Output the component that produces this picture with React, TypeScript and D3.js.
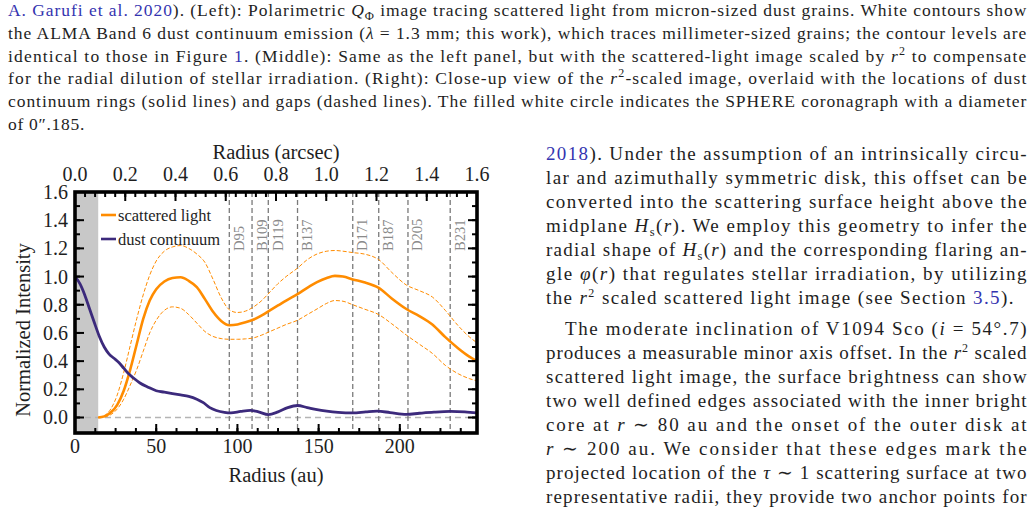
import React from "react";
import * as d3 from "d3";

// scattered light profile (r^2 scaled), sampled in au
const scatRadius = [14.3, 18, 22, 26, 30, 34, 38, 42, 46, 50, 55, 60, 65, 70, 75, 80, 85, 90, 95, 100, 105, 110, 115, 120, 125, 130, 137, 143, 149, 155, 160, 165, 171, 178, 187, 195, 204, 212, 220, 228, 236, 243, 247.5];
const scatMid = [0, 0.008, 0.035, 0.09, 0.19, 0.34, 0.52, 0.7, 0.83, 0.91, 0.965, 0.99, 0.995, 0.97, 0.925, 0.84, 0.75, 0.685, 0.655, 0.66, 0.675, 0.695, 0.725, 0.76, 0.795, 0.83, 0.875, 0.92, 0.96, 0.99, 1.005, 1.0, 0.98, 0.96, 0.92, 0.845, 0.77, 0.72, 0.66, 0.57, 0.49, 0.43, 0.4];
const scatUpper = [0, 0.012, 0.06, 0.16, 0.32, 0.51, 0.7, 0.87, 1.01, 1.11, 1.18, 1.21, 1.22, 1.2, 1.16, 1.1, 0.98, 0.85, 0.765, 0.745, 0.755, 0.785, 0.83, 0.89, 0.95, 1.0, 1.06, 1.12, 1.16, 1.18, 1.185, 1.18, 1.17, 1.16, 1.12, 1.03, 0.94, 0.9, 0.855, 0.76, 0.65, 0.57, 0.53];
const scatLower = [0, 0.004, 0.02, 0.06, 0.13, 0.23, 0.34, 0.47, 0.6, 0.69, 0.76, 0.785, 0.775, 0.73, 0.67, 0.61, 0.575, 0.56, 0.555, 0.555, 0.558, 0.565, 0.585, 0.61, 0.635, 0.66, 0.69, 0.73, 0.77, 0.81, 0.83, 0.825, 0.8, 0.77, 0.73, 0.665, 0.585, 0.52, 0.455, 0.37, 0.31, 0.275, 0.26];

// dust continuum profile
const dustRadius = [0, 3, 6, 9, 12, 15, 18, 21, 24, 27, 30, 33, 36, 40, 45, 50, 55, 60, 65, 70, 75, 79, 83, 87, 92, 96, 102, 108, 113, 119, 125, 131, 137, 143, 149, 155, 162, 171, 179, 186, 194, 204, 212, 221, 231, 240, 247.5];
const dustValue = [1.0, 0.95, 0.87, 0.77, 0.67, 0.575, 0.5, 0.45, 0.42, 0.39, 0.35, 0.31, 0.28, 0.245, 0.215, 0.19, 0.18, 0.17, 0.16, 0.15, 0.13, 0.105, 0.07, 0.05, 0.037, 0.033, 0.043, 0.05, 0.04, 0.021, 0.04, 0.07, 0.085, 0.07, 0.055, 0.045, 0.037, 0.033, 0.04, 0.045, 0.035, 0.022, 0.03, 0.038, 0.043, 0.04, 0.033];

// rings (B) and gaps (D) of the continuum
const ringNames = ["D95", "B109", "D119", "B137", "D171", "B187", "D205", "B231"];
const ringRadius = [95, 109, 119, 137, 171, 187, 205, 231];

const coronagraphAu = 14.3;
const auMax = 247.5;
const arcsecMax = 1.6;

const bottomTicks = [0, 50, 100, 150, 200];
const topTicks = [0, 0.2, 0.4, 0.6, 0.8, 1.0, 1.2, 1.4, 1.6];
const leftTicks = [0, 0.2, 0.4, 0.6, 0.8, 1.0, 1.2, 1.4, 1.6];

const ORANGE = "#ff8c00";
const PURPLE = "#3c2a7c";
const LINK = "#3434b0";
const INK = "#1e1e1e";
const SERIF = "'Liberation Serif', 'Times New Roman', serif";

const L = 75, R = 477, T = 192, B = 433;

function Chart() {
  const x = d3.scaleLinear().domain([0, auMax]).range([L, R]);
  const xa = d3.scaleLinear().domain([0, arcsecMax]).range([L, R]);
  const y = d3.scaleLinear().domain([-0.11, 1.6]).range([B, T]);

  const line = d3.line<[number, number]>()
    .x(d => x(d[0]))
    .y(d => y(d[1]))
    .curve(d3.curveMonotoneX);
  const zip = (a: number[], b: number[]) => a.map((r, i) => [r, b[i]] as [number, number]);

  const minorAu = d3.range(0, auMax, 12.5);
  const minorArc = d3.range(0, arcsecMax + 0.001, 0.04);
  const minorY = d3.range(0, 1.61, 0.1);
  const fmt = d3.format(".1f");

  return (
    <g fontFamily={SERIF}>
      <defs>
        <clipPath id="plotClip">
          <rect x={L} y={T} width={R - L} height={B - T} />
        </clipPath>
      </defs>
      <rect x={L} y={T} width={x(coronagraphAu) - L} height={B - T} fill="#c8c8c8" />
      <line x1={L} x2={R} y1={y(0)} y2={y(0)} stroke="#b4b4b4" strokeWidth={1.5} strokeDasharray="6,4" />
      {ringRadius.map((r, i) => (
        <g key={ringNames[i]}>
          <line x1={x(r)} x2={x(r)} y1={T} y2={B} stroke="#7a7a7a" strokeWidth={1.3} strokeDasharray="5,3" />
          <text transform={`translate(${x(r) + 14.5},251) rotate(-90)`} fontSize={14.5} fill="#8a8a8a">{ringNames[i]}</text>
        </g>
      ))}
      <g clipPath="url(#plotClip)">
        <path d={line(zip(scatRadius, scatUpper)) ?? ""} fill="none" stroke={ORANGE} strokeWidth={1} strokeDasharray="4,2" />
        <path d={line(zip(scatRadius, scatLower)) ?? ""} fill="none" stroke={ORANGE} strokeWidth={1} strokeDasharray="4,2" />
        <path d={line(zip(scatRadius, scatMid)) ?? ""} fill="none" stroke={ORANGE} strokeWidth={2.6} />
        <path d={line(zip(dustRadius, dustValue)) ?? ""} fill="none" stroke={PURPLE} strokeWidth={2.8} />
      </g>

      {/* legend */}
      <line x1={101} x2={116} y1={215} y2={215} stroke={ORANGE} strokeWidth={2.6} />
      <text x={118} y={221} fontSize={16.5} fill={INK}>scattered light</text>
      <line x1={101} x2={116} y1={239} y2={239} stroke={PURPLE} strokeWidth={2.6} />
      <text x={118} y={245} fontSize={16.5} fill={INK}>dust continuum</text>

      {/* ticks */}
      <g stroke="#000" strokeWidth={2}>
        {minorAu.map(v => <line key={"bm" + v} x1={x(v)} x2={x(v)} y1={B} y2={B - 5} />)}
        {bottomTicks.map(v => <line key={"bM" + v} x1={x(v)} x2={x(v)} y1={B} y2={B - 9} />)}
        {minorArc.map(v => <line key={"tm" + v} x1={xa(v)} x2={xa(v)} y1={T} y2={T + 5} />)}
        {topTicks.map(v => <line key={"tM" + v} x1={xa(v)} x2={xa(v)} y1={T} y2={T + 9} />)}
        {minorY.map(v => <line key={"lm" + v} x1={L} x2={L + 5} y1={y(v)} y2={y(v)} />)}
        {leftTicks.map(v => <line key={"lM" + v} x1={L} x2={L + 9} y1={y(v)} y2={y(v)} />)}
        {minorY.map(v => <line key={"rm" + v} x1={R} x2={R - 5} y1={y(v)} y2={y(v)} />)}
        {leftTicks.map(v => <line key={"rM" + v} x1={R} x2={R - 9} y1={y(v)} y2={y(v)} />)}
      </g>
      <rect x={L} y={T} width={R - L} height={B - T} fill="none" stroke="#000" strokeWidth={3.6} />

      {/* tick labels */}
      <g fontSize={20} fill={INK}>
        {bottomTicks.map(v => <text key={"bl" + v} x={x(v)} y={453} textAnchor="middle">{v}</text>)}
        {topTicks.map(v => <text key={"tl" + v} x={xa(v)} y={181} textAnchor="middle">{fmt(v)}</text>)}
        {leftTicks.map(v => <text key={"ll" + v} x={68} y={y(v) + 7} textAnchor="end">{fmt(v)}</text>)}
      </g>
      <text x={(L + R) / 2} y={482} fontSize={20.5} textAnchor="middle" fill={INK}>Radius (au)</text>
      <text x={(L + R) / 2} y={159} fontSize={20.5} textAnchor="middle" fill={INK}>Radius (arcsec)</text>
      <text transform="translate(30,330) rotate(-90)" fontSize={20.5} textAnchor="middle" fill={INK}>Normalized Intensity</text>
    </g>
  );
}

const It = ({ children }: { children: React.ReactNode }) => <tspan fontStyle="italic">{children}</tspan>;
const Lk = ({ children }: { children: React.ReactNode }) => <tspan fill={LINK}>{children}</tspan>;
const Sub = ({ children }: { children: React.ReactNode }) => <tspan baselineShift={-4} fontSize={12.5}>{children}</tspan>;
const Sq = () => (
  <>
    <tspan fontStyle="italic">r</tspan>
    <tspan baselineShift={7} fontSize={12}>2</tspan>
  </>
);

function TextLine({ x, y, w, size, ls, children }: { x: number; y: number; w?: number; size: number; ls: number; children: React.ReactNode }) {
  return (
    <text x={x} y={y} fontSize={size} fill={INK} fontFamily={SERIF} letterSpacing={ls}
      {...(w ? { textLength: w, lengthAdjust: "spacing" } : {})}>
      {children}
    </text>
  );
}

function Caption() {
  const x = 8, w = 1019, y0 = 16, lh = 22.8, fs = 17.5;
  const lines: React.ReactNode[] = [
    <><Lk>A. Garufi et al. 2020</Lk>). (Left): Polarimetric <It>Q</It><Sub>Φ</Sub> image tracing scattered light from micron-sized dust grains. White contours show</>,
    <>the ALMA Band 6 dust continuum emission (<It>λ</It> = 1.3 mm; this work), which traces millimeter-sized grains; the contour levels are</>,
    <>identical to those in Figure <Lk>1</Lk>. (Middle): Same as the left panel, but with the scattered-light image scaled by <Sq /> to compensate</>,
    <>for the radial dilution of stellar irradiation. (Right): Close-up view of the <Sq />-scaled image, overlaid with the locations of dust</>,
    <>continuum rings (solid lines) and gaps (dashed lines). The filled white circle indicates the SPHERE coronagraph with a diameter</>,
    <>of 0″.185.</>,
  ];
  return (
    <g>
      {lines.map((l, i) => (
        <TextLine key={i} x={x} y={y0 + i * lh} w={i < lines.length - 1 ? w : undefined} size={fs} ls={0.7}>{l}</TextLine>
      ))}
    </g>
  );
}

function Body() {
  const x = 546, w = 482, fs = 19, lh = 24;
  const para1: React.ReactNode[] = [
    <><Lk>2018</Lk>).  Under the assumption of an intrinsically circu-</>,
    <>lar and azimuthally symmetric disk, this offset can be</>,
    <>converted into the scattering surface height above the</>,
    <>midplane <It>H</It><Sub>s</Sub>(<It>r</It>). We employ this geometry to infer the</>,
    <>radial shape of <It>H</It><Sub>s</Sub>(<It>r</It>) and the corresponding flaring an-</>,
    <>gle <It>φ</It>(<It>r</It>) that regulates stellar irradiation, by utilizing</>,
    <>the <Sq /> scaled scattered light image (see Section <Lk>3.5</Lk>).</>,
  ];
  const para2: React.ReactNode[] = [
    <>The moderate inclination of V1094 Sco (<It>i</It> = 54°.7)</>,
    <>produces a measurable minor axis offset. In the <Sq /> scaled</>,
    <>scattered light image, the surface brightness can show</>,
    <>two well defined edges associated with the inner bright</>,
    <>core at <It>r</It> ∼ 80 au and the onset of the outer disk at</>,
    <><It>r</It> ∼ 200 au.  We consider that these edges mark the</>,
    <>projected location of the <It>τ</It> ∼ 1 scattering surface at two</>,
    <>representative radii, they provide two anchor points for</>,
  ];
  return (
    <g>
      {para1.map((l, i) => (
        <TextLine key={"a" + i} x={x} y={160 + i * lh} w={i < para1.length - 1 ? w : undefined} size={fs} ls={1.4}>{l}</TextLine>
      ))}
      {para2.map((l, i) => (
        <TextLine key={"b" + i} x={i === 0 ? x + 19 : x} y={335 + i * lh} w={i === 0 ? w - 19 : w} size={fs} ls={1.4}>{l}</TextLine>
      ))}
    </g>
  );
}

export default function App() {
  return (
    <svg width={1035} height={512} viewBox="0 0 1035 512"
      style={{ position: "absolute", left: 0, top: 0, background: "#fff" }}>
      <Caption />
      <Chart />
      <Body />
    </svg>
  );
}
